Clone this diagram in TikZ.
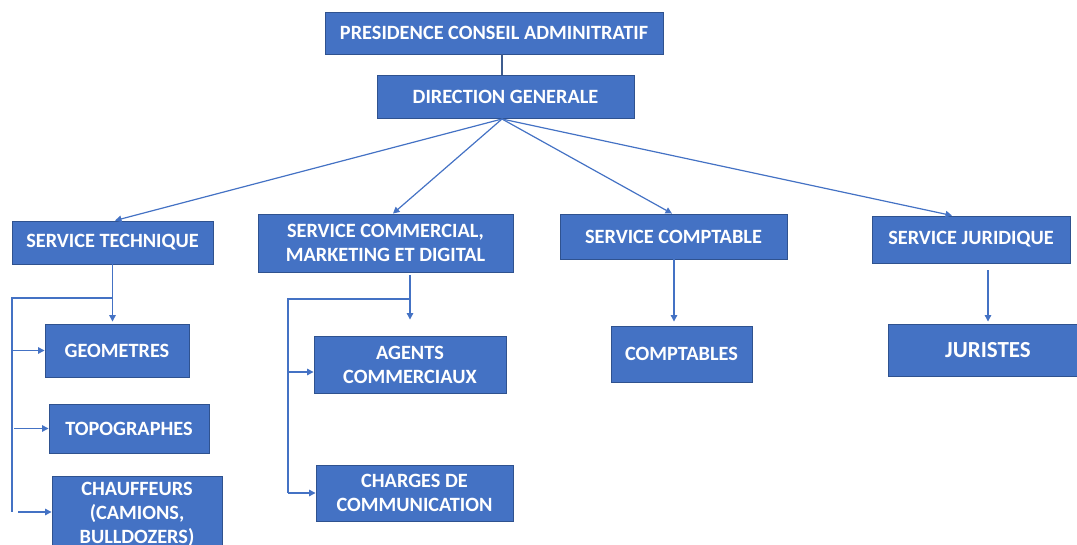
\documentclass[tikz,border=0pt]{standalone}
\usepackage{fontspec}
\setmainfont{Carlito}
\usetikzlibrary{arrows.meta,calc}
\definecolor{boxblue}{HTML}{4472C4}
\definecolor{boxedge}{HTML}{2F528F}
\definecolor{topline}{HTML}{3E5C8E}
\tikzset{
  orgbox/.style={draw=boxedge, line width=0.9pt, fill=boxblue, text=white, inner sep=0pt,
    align=center, font=\fontsize{20.3}{24}\selectfont\bfseries, anchor=center},
  ln/.style={draw=boxblue, line width=1.2pt},
  arr/.style={ln, -{Triangle[width=6.5pt,length=6.5pt]}}
}
\begin{document}
\begin{tikzpicture}[x=1pt,y=-1pt]
\useasboundingbox (0,0) rectangle (1077,545);
% nodes
\node[orgbox, minimum width=338pt, minimum height=42pt] (pca) at (494,33) {PRESIDENCE CONSEIL ADMINITRATIF};
\node[orgbox, minimum width=257pt, minimum height=43pt] (dg) at (505.5,96.5) {DIRECTION GENERALE};
\node[orgbox, minimum width=201pt, minimum height=43pt] (st) at (112.5,242.5) {SERVICE TECHNIQUE};
\node[orgbox, minimum width=255pt, minimum height=58pt] (scm) at (385.5,243) {SERVICE COMMERCIAL,\\MARKETING ET DIGITAL};
\node[orgbox, minimum width=227pt, minimum height=45pt] (sc) at (673.5,236.5) {SERVICE COMPTABLE};
\node[orgbox, minimum width=198pt, minimum height=47pt] (sj) at (971,239.5) {SERVICE JURIDIQUE};
\node[orgbox, minimum width=144pt, minimum height=53pt] (geo) at (117,350.5) {GEOMETRES};
\node[orgbox, minimum width=160pt, minimum height=49pt] (topo) at (129,428.5) {TOPOGRAPHES};
\node[orgbox, minimum width=170pt, minimum height=77pt] (ch) at (137,514.5) {CHAUFFEURS\\(CAMIONS,\\BULLDOZERS)};
\node[orgbox, minimum width=192pt, minimum height=57pt] (ag) at (410,364.5) {AGENTS\\COMMERCIAUX};
\node[orgbox, minimum width=197pt, minimum height=56pt] (chg) at (414.5,493) {CHARGES DE\\COMMUNICATION};
\node[orgbox, minimum width=141pt, minimum height=56pt] (cpt) at (681.5,354) {COMPTABLES};
\node[orgbox, minimum width=200pt, minimum height=52pt, font=\fontsize{23}{28}\selectfont\bfseries] (jur) at (988,350) {JURISTES};
% helper coordinates
\coordinate (fan) at (502,119);
\coordinate (stbus) at (12,298);
\coordinate (scmbus) at (288,299);
% top link
\draw[draw=topline, line width=2.6pt] (pca.south -| fan) -- (dg.north -| fan);
% fan-out
\draw[arr] (fan) -- ($(st.north)+(2.5,0)$);
\draw[arr] (fan) -- ($(scm.north)+(7.5,0)$);
\draw[arr] (fan) -- ($(sc.north)+(-1.5,0)$);
\draw[arr] (fan) -- ($(sj.north)+(-19,0)$);
% service technique
\draw[arr, shorten >=2pt] (st.south) -- (st.south |- geo.north);
\draw[ln] (st.south |- stbus) -- (stbus) -- ($(stbus |- ch.west)+(0,-2.5)$);
\draw[arr] (stbus |- geo.west) -- (geo.west);
\draw[arr] ($(stbus |- topo.west)+(2,0)$) -- (topo.west);
\draw[arr] ($(stbus |- ch.west)+(6,-2.5)$) -- ($(ch.west)+(0,-2.5)$);
% service commercial
\draw[arr, shorten <=3pt, shorten >=16pt] (scm.south -| ag.north) -- (ag.north);
\draw[ln] (scmbus -| ag.north) -- (scmbus) -- (scmbus |- chg.west);
\draw[arr] ($(scmbus |- ag.west)+(0,7.5)$) -- ($(ag.west)+(0,7.5)$);
\draw[arr] (scmbus |- chg.west) -- (chg.west);
% service comptable
\draw[arr, shorten >=4pt] (sc.south -| 674,0) -- (cpt.north -| 674,0);
% service juridique
\draw[arr, shorten <=7pt, shorten >=2pt] (sj.south -| jur.north) -- (jur.north);
\end{tikzpicture}
\end{document}
